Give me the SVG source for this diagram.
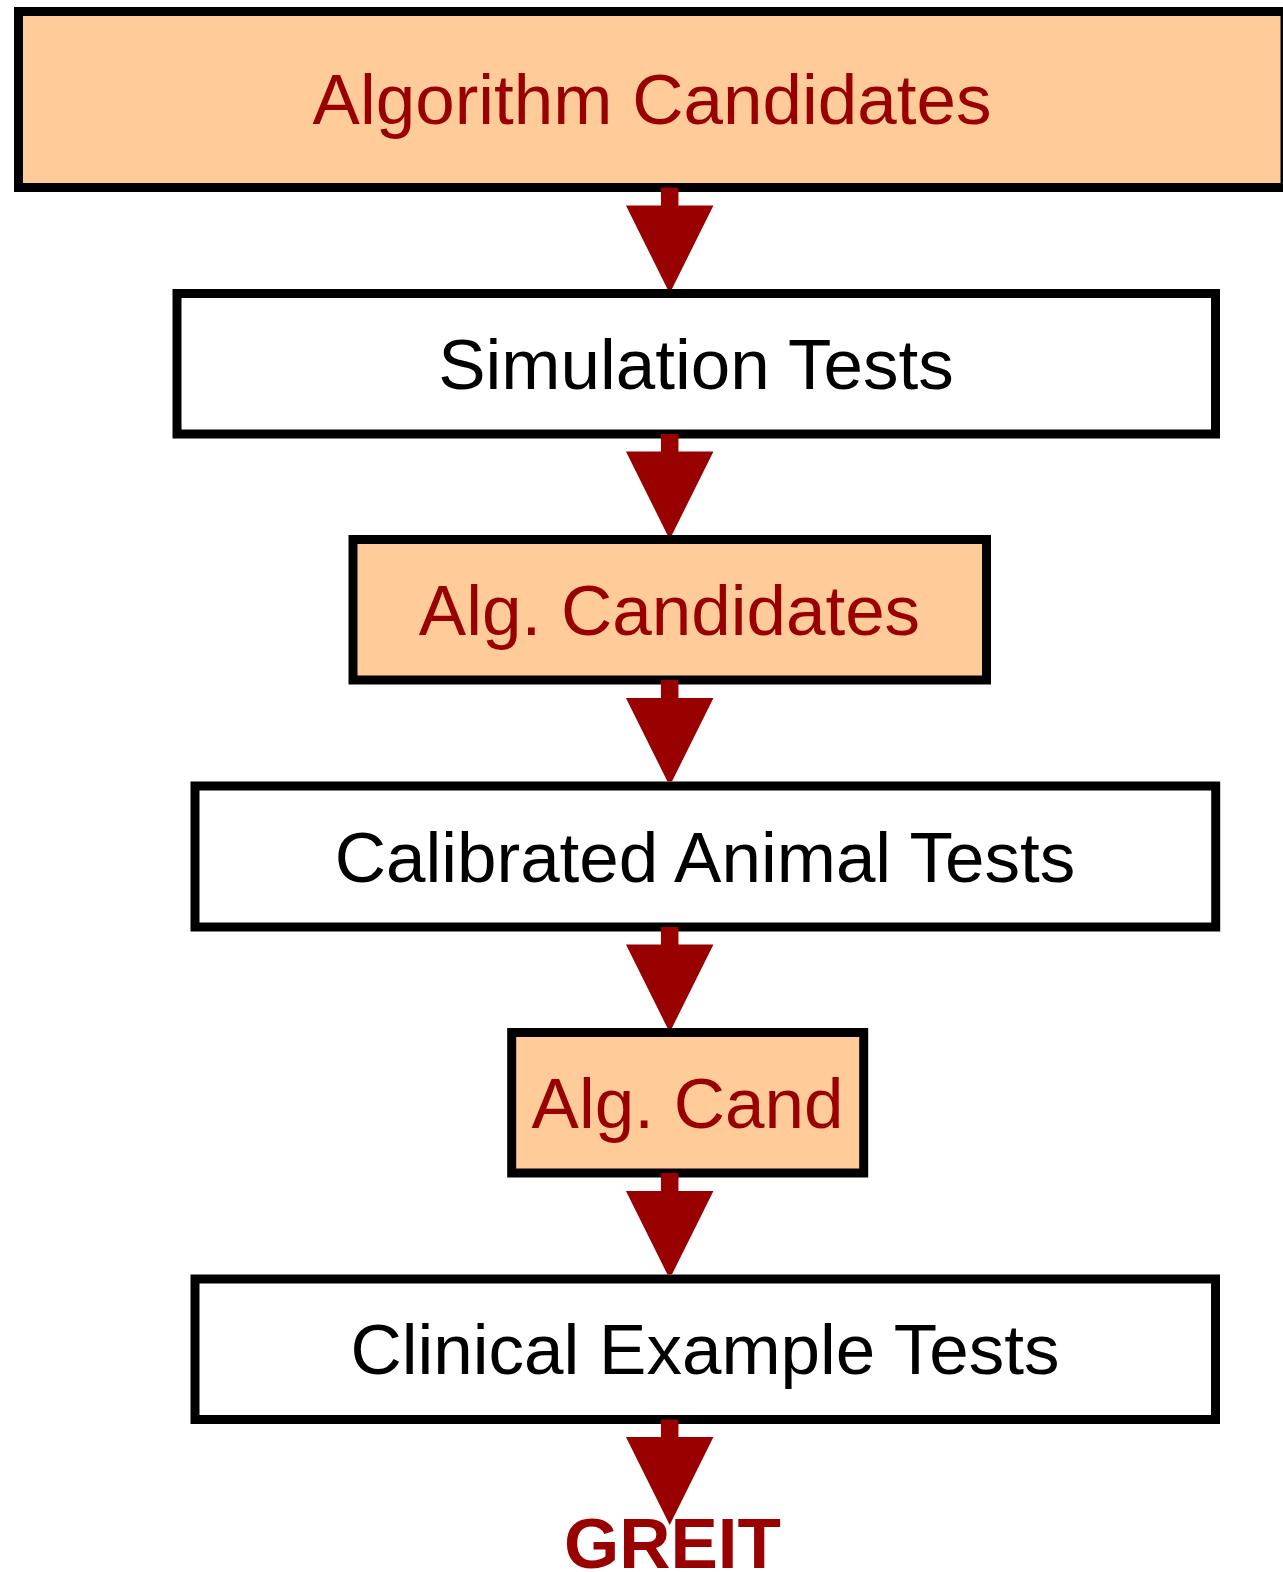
<svg xmlns="http://www.w3.org/2000/svg" xmlns:xlink="http://www.w3.org/1999/xlink" width="1283" height="1572" viewBox="0 0 1283 1572">
<style>
.box{stroke:#000;stroke-width:9;}
.cand{fill:#FFCC99;}
.test{fill:#FFFFFF;}
.lbl{font-family:"Liberation Sans",Arial,Helvetica,sans-serif;font-size:71px;text-anchor:middle;}
.red{fill:#990000;}
.blk{fill:#000000;}
.arrow{fill:#990000;stroke:none;}
.final{font-family:"Liberation Sans",Arial,Helvetica,sans-serif;font-size:71px;font-weight:bold;text-anchor:middle;fill:#990000;}
</style>
<rect width="1283" height="1572" fill="#FFFFFF"/>
<g id="n-algorithm-candidates">
<rect class="box cand" x="18.5" y="11.5" width="1266.5" height="176"/>
<text class="lbl red" x="652" y="124">Algorithm Candidates</text>
</g>
<g id="n-simulation-tests">
<rect class="box test" x="177" y="293.5" width="1038.5" height="140.5"/>
<text class="lbl blk" x="696" y="389">Simulation Tests</text>
</g>
<g id="n-alg-candidates">
<rect class="box cand" x="353" y="539.5" width="633.5" height="140.5"/>
<text class="lbl red" x="669.5" y="635">Alg. Candidates</text>
</g>
<g id="n-calibrated-animal-tests">
<rect class="box test" x="195" y="786" width="1020.7" height="141"/>
<text class="lbl blk" x="705" y="881.5">Calibrated Animal Tests</text>
</g>
<g id="n-alg-cand">
<rect class="box cand" x="511.7" y="1032.5" width="352" height="140.5"/>
<text class="lbl red" x="687.5" y="1127.7">Alg. Cand</text>
</g>
<g id="n-clinical-example-tests">
<rect class="box test" x="195" y="1279" width="1020.5" height="140.5"/>
<text class="lbl blk" x="705" y="1374.2">Clinical Example Tests</text>
</g>
<g id="n-greit">
<text class="final" x="672.5" y="1567.5">GREIT</text>
</g>
<g id="connectors">
<path class="arrow" d="M660.95,187.5 H678.45 V205.5 H713.45 L671.94,289 H667.46 L625.95,205.5 H660.95 Z"/>
<path class="arrow" d="M660.95,434 H678.45 V451.5 H713.45 L671.94,535 H667.46 L625.95,451.5 H660.95 Z"/>
<path class="arrow" d="M660.95,680 H678.45 V698 H713.45 L671.94,781.5 H667.46 L625.95,698 H660.95 Z"/>
<path class="arrow" d="M660.95,927 H678.45 V944.5 H713.45 L671.94,1028 H667.46 L625.95,944.5 H660.95 Z"/>
<path class="arrow" d="M660.95,1173 H678.45 V1191 H713.45 L671.94,1274.5 H667.46 L625.95,1191 H660.95 Z"/>
<path class="arrow" d="M660.95,1419.5 H678.45 V1437 H713.45 L669.7,1525 L625.95,1437 H660.95 Z"/>
</g>
</svg>
